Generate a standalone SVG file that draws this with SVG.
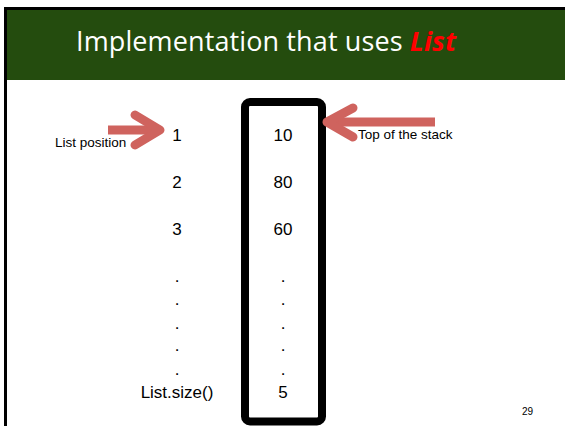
<svg xmlns="http://www.w3.org/2000/svg" width="565" height="426" viewBox="0 0 565 426">
  <style>
    .t { font-family: "Liberation Sans", Arial, sans-serif; fill: #000; }
    .num { font-size: 17px; text-anchor: middle; }
    .lbl { font-size: 13.5px; }
    .arrow { fill: none; stroke: #CF635E; stroke-width: 9; stroke-linejoin: round; }
  </style>

  <!-- slide frame -->
  <rect x="0" y="0" width="565" height="426" fill="#fff"/>
  <rect x="4" y="7" width="3" height="419" fill="#000"/>
  <rect x="4" y="7" width="561" height="3" fill="#000"/>

  <!-- title bar -->
  <g id="title">
    <rect x="7" y="10" width="558" height="70" fill="#244C0E"/>
    <text x="266" y="51" text-anchor="middle" textLength="380" font-family="Open Sans, Liberation Sans, sans-serif" font-size="27" fill="#fff">Implementation that uses <tspan fill="#FF0000" font-weight="bold" font-style="italic">List</tspan></text>
  </g>

  <!-- stack container -->
  <g id="stack">
    <rect x="245" y="102" width="77" height="319.5" rx="5" fill="none" stroke="#000" stroke-width="8"/>
    <text class="t num" x="283" y="141">10</text>
    <text class="t num" x="283" y="188">80</text>
    <text class="t num" x="283" y="235">60</text>
    <text class="t num" x="283" y="282">.</text>
    <text class="t num" x="283" y="305">.</text>
    <text class="t num" x="283" y="329">.</text>
    <text class="t num" x="283" y="351">.</text>
    <text class="t num" x="283" y="375">.</text>
    <text class="t num" x="283" y="398">5</text>
  </g>

  <!-- list positions -->
  <g id="positions">
    <text class="t num" x="177" y="141">1</text>
    <text class="t num" x="177" y="188">2</text>
    <text class="t num" x="177" y="235">3</text>
    <text class="t num" x="177" y="282">.</text>
    <text class="t num" x="177" y="305">.</text>
    <text class="t num" x="177" y="329">.</text>
    <text class="t num" x="177" y="351">.</text>
    <text class="t num" x="177" y="375">.</text>
    <text class="t num" x="177" y="398">List.size()</text>
  </g>

  <g id="label-position">
    <text class="t lbl" x="55" y="147">List position</text>
  </g>
  <g id="label-top">
    <text class="t lbl" x="358" y="139">Top of the stack</text>
  </g>

  <g id="page-number">
    <text class="t" x="522" y="415" font-size="10">29</text>
  </g>

  <!-- arrows -->
  <g id="connectors">
    <path class="arrow" d="M108 130 H158"/>
    <path class="arrow" d="M135 115 L160 130 L135 145" stroke-linecap="round"/>
    <path class="arrow" d="M435 122 H330"/>
    <path class="arrow" d="M353 108 L327 122 L353 137" stroke-linecap="round"/>
  </g>
</svg>
